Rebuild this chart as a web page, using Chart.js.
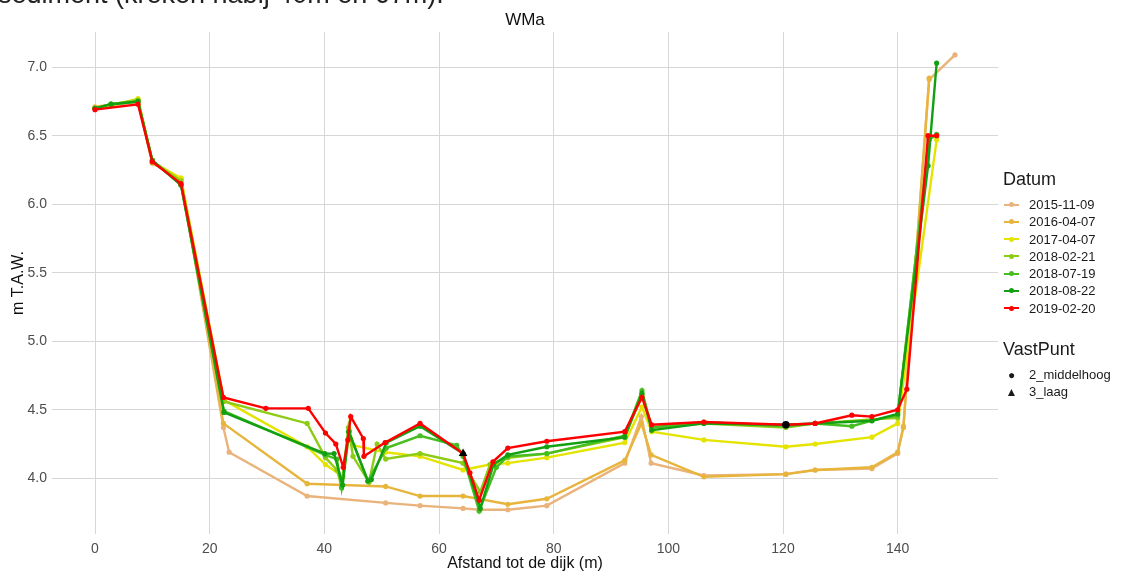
<!DOCTYPE html>
<html>
<head>
<meta charset="utf-8">
<title>WMa</title>
<script src="https://cdn.jsdelivr.net/npm/chart.js@4.4.0/dist/chart.umd.min.js"></script>
<style>
  body { margin: 0; background: #fff; font-family: 'Liberation Sans', Arial, sans-serif; }
  #wrap { position: relative; width: 1132px; height: 572px; overflow: hidden; }
  #cut { position: absolute; left: -2px; top: -21px; font-size: 27px; color: #222; white-space: nowrap; }
  #title { position: absolute; left: 425px; width: 200px; top: 10px; text-align: center; font-size: 17px; color: #111; }
  #legend { position: absolute; left: 1003px; top: 169px; color: #1a1a1a; }
  .lgTitle { font-size: 18px; margin-bottom: 6px; }
  .lgRow { height: 17.3px; font-size: 13px; line-height: 17.3px; white-space: nowrap; }
  .key { display: inline-block; position: relative; width: 17px; height: 17px; vertical-align: top; margin-right: 9px; }
  .key .ln { position: absolute; left: 1px; right: 1px; top: 7.5px; height: 2px; }
  .key .dt { position: absolute; left: 6px; top: 6px; width: 5px; height: 5px; border-radius: 50%; }
  .sym { display: inline-block; width: 17px; text-align: center; margin-right: 9px; font-size: 12px; }
</style>
</head>
<body>
<div id="wrap">
  <canvas id="chart" width="1132" height="572"></canvas>
  <div id="cut">sediment (kreken nabij 40m en 67m).</div>
  <div id="title">WMa</div>
  <div id="legend"></div>
</div>
<script>
'use strict';

// datums en kleuren
const datums = ['2015-11-09', '2016-04-07', '2017-04-07', '2018-02-21', '2018-07-19', '2018-08-22', '2019-02-20'];
const kleuren = ['#eab37b', '#e8b53c', '#e4e400', '#8ccc14', '#46be22', '#12a012', '#ff0000'];

// afstand (m) en hoogte (m T.A.W.) per opname
const x2015 = [0, 7.5, 10, 15, 22.4, 23.4, 37, 50.7, 56.7, 64.2, 67.2, 72, 78.8, 92.4, 95.3, 97, 106.2, 120.5, 125.6, 135.5, 140, 141, 145.5, 150];
const y2015 = [6.70, 6.75, 6.30, 6.18, 4.37, 4.19, 3.87, 3.82, 3.80, 3.78, 3.77, 3.77, 3.80, 4.11, 4.45, 4.11, 4.02, 4.03, 4.06, 4.07, 4.18, 4.38, 6.91, 7.09];

const x2016 = [0, 7.5, 10, 15, 22.4, 37, 50.7, 56.7, 64.2, 72, 78.8, 92.4, 95.3, 97, 106.2, 120.5, 125.6, 135.5, 140, 141, 145.5];
const y2016 = [6.71, 6.76, 6.30, 6.19, 4.40, 3.96, 3.94, 3.87, 3.87, 3.81, 3.85, 4.13, 4.40, 4.17, 4.01, 4.03, 4.06, 4.08, 4.19, 4.37, 6.92];

const x2017 = [0, 2.8, 7.5, 10, 15, 22.5, 37, 40.2, 43.3, 44.4, 45.1, 50.6, 56.7, 64.2, 68.9, 72, 78.8, 92.4, 95.4, 97.1, 106.2, 120.5, 125.6, 135.5, 140, 146.8];
const y2017 = [6.70, 6.72, 6.77, 6.31, 6.19, 4.57, 4.23, 4.10, 4.01, 4.35, 4.24, 4.19, 4.16, 4.06, 4.10, 4.11, 4.15, 4.26, 4.52, 4.34, 4.28, 4.23, 4.25, 4.30, 4.40, 6.47];

const x2018a = [0, 2.8, 7.5, 10, 15, 22.5, 37, 40.2, 42.2, 43, 44.2, 45, 47.8, 49.2, 50.7, 56.7, 64.2, 67.2, 68.9, 72, 78.8, 92.4, 95.4, 97.1, 106.2, 120.5, 125.6, 135.5, 140, 145.5, 146.8];
const y2018a = [6.70, 6.73, 6.76, 6.31, 6.17, 4.56, 4.40, 4.15, 4.06, 3.94, 4.37, 4.16, 3.97, 4.25, 4.14, 4.18, 4.11, 3.90, 4.10, 4.15, 4.18, 4.30, 4.61, 4.37, 4.40, 4.37, 4.40, 4.43, 4.44, 6.48, 6.50];

const x2018b = [0, 2.8, 7.5, 10, 15, 22.5, 40.1, 42.2, 43, 44.2, 47.6, 50.8, 56.7, 63.1, 64.2, 67, 70, 72, 78.8, 92.4, 95.4, 97.1, 106.2, 120.5, 125.6, 132, 135.5, 140, 145.5, 146.8];
const y2018b = [6.70, 6.73, 6.75, 6.32, 6.14, 4.49, 4.17, 4.14, 3.93, 4.34, 3.98, 4.22, 4.31, 4.24, 4.16, 3.76, 4.08, 4.16, 4.18, 4.31, 4.64, 4.37, 4.41, 4.38, 4.40, 4.38, 4.42, 4.46, 6.47, 6.51];

const x2018c = [0, 2.8, 7.5, 10, 15, 22.5, 40.1, 41.7, 43.2, 44.3, 47.6, 48.2, 50.8, 56.7, 64.2, 67.2, 69.5, 72, 78.8, 92.4, 95.4, 97.1, 106.2, 120.5, 125.6, 135.5, 140, 145.3, 146.8];
const y2018c = [6.70, 6.73, 6.75, 6.32, 6.14, 4.48, 4.18, 4.18, 3.95, 4.34, 3.98, 3.99, 4.26, 4.38, 4.18, 3.78, 4.10, 4.17, 4.23, 4.30, 4.62, 4.35, 4.40, 4.39, 4.40, 4.42, 4.47, 6.28, 7.03];

const x2019 = [0, 7.5, 10, 15, 22.4, 29.8, 37.2, 40.2, 42, 43.3, 44.1, 44.6, 46.8, 46.9, 50.6, 56.7, 64.2, 65.4, 67, 69.4, 72, 78.8, 92.4, 95.4, 97.1, 106.2, 120.5, 125.6, 132, 135.5, 140, 141.6, 145.3, 146.8];
const y2019 = [6.69, 6.73, 6.31, 6.15, 4.59, 4.51, 4.51, 4.33, 4.25, 4.08, 4.28, 4.45, 4.29, 4.16, 4.26, 4.40, 4.18, 4.04, 3.84, 4.12, 4.22, 4.27, 4.34, 4.59, 4.39, 4.41, 4.39, 4.40, 4.46, 4.45, 4.50, 4.65, 6.50, 6.50];

const reeksX = [x2015, x2016, x2017, x2018a, x2018b, x2018c, x2019];
const reeksY = [y2015, y2016, y2017, y2018a, y2018b, y2018c, y2019];

// vaste punten
const vastNamen = ['2_middelhoog', '3_laag'];
const vastX = [120.5, 64.2];
const vastY = [4.39, 4.18];
const vastVorm = ['circle', 'triangle'];

// assen
const xTicks = [0, 20, 40, 60, 80, 100, 120, 140];
const yTicks = [4.0, 4.5, 5.0, 5.5, 6.0, 6.5, 7.0];

const tickKleur = '#4d4d4d';
const rasterKleur = '#d7d7d7';

// datasets opbouwen (laatste datum bovenaan tekenen)
const datasets = datums.map(function (d, i) {
    return {
        label: d,
        data: reeksX[i].map(function (x, j) { return { x: x, y: reeksY[i][j] }; }),
        showLine: true,
        borderColor: kleuren[i],
        backgroundColor: kleuren[i],
        borderWidth: 2.4,
        pointRadius: 2.6,
        pointBorderWidth: 0,
        tension: 0,
        order: datums.length - i
    };
});

datasets.push({
    label: 'VastPunt',
    data: vastX.map(function (x, j) { return { x: x, y: vastY[j] }; }),
    showLine: false,
    pointStyle: vastVorm,
    pointRadius: [3.8, 5],
    backgroundColor: '#000',
    borderColor: '#000',
    borderWidth: 0,
    order: 0
});

const ctx = document.getElementById('chart');
const chart = new Chart(ctx, {
    type: 'scatter',
    data: { datasets: datasets },
    options: {
        responsive: false,
        devicePixelRatio: 1,
        animation: false,
        layout: { padding: { top: 32, right: 134, bottom: 0, left: 0 } },
        plugins: { legend: { display: false }, tooltip: { enabled: false }, title: { display: false } },
        scales: {
            x: {
                type: 'linear',
                min: -7.5,
                max: 157.5,
                afterFit: function (s) { s.height = 38; },
                afterBuildTicks: function (s) { s.ticks = xTicks.map(function (v) { return { value: v }; }); },
                grid: { color: rasterKleur, lineWidth: 1, drawTicks: false },
                border: { display: false },
                ticks: { color: tickKleur, font: { family: "'Liberation Sans', Arial", size: 14 }, padding: 7 },
                title: {
                    display: true,
                    text: 'Afstand tot de dijk (m)',
                    color: '#111',
                    font: { family: "'Liberation Sans', Arial", size: 16 },
                    padding: { top: 0, bottom: -1 }
                }
            },
            y: {
                type: 'linear',
                min: 3.593,
                max: 7.257,
                afterFit: function (s) { s.width = 52; },
                afterBuildTicks: function (s) { s.ticks = yTicks.map(function (v) { return { value: v }; }); },
                grid: { color: rasterKleur, lineWidth: 1, drawTicks: false },
                border: { display: false },
                ticks: {
                    color: tickKleur,
                    font: { family: "'Liberation Sans', Arial", size: 14 },
                    padding: 5,
                    callback: function (v) { return Number(v).toFixed(1); }
                },
                title: {
                    display: true,
                    text: 'm T.A.W.',
                    color: '#111',
                    font: { family: "'Liberation Sans', Arial", size: 16 },
                    padding: { top: 9, bottom: 0 }
                }
            }
        }
    }
});

// legenda (HTML)
let html = '<div class="lgTitle">Datum</div>';
datums.forEach(function (d, i) {
    html += '<div class="lgRow"><span class="key"><span class="ln" style="background:' + kleuren[i] + '"></span>' +
        '<span class="dt" style="background:' + kleuren[i] + '"></span></span>' + d + '</div>';
});
html += '<div class="lgTitle" style="margin-top:22px">VastPunt</div>';
const vastSym = ['&#9679;', '&#9650;'];
vastNamen.forEach(function (n, i) {
    html += '<div class="lgRow"><span class="sym">' + vastSym[i] + '</span>' + n + '</div>';
});
document.getElementById('legend').innerHTML = html;
</script>
</body>
</html>
